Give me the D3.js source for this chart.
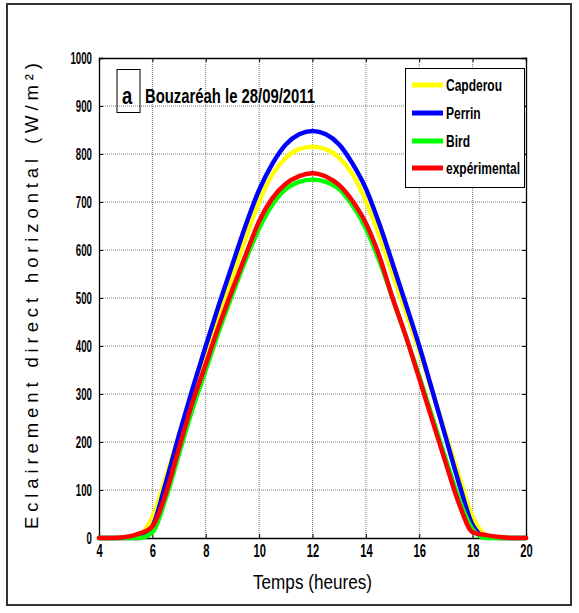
<!DOCTYPE html>
<html>
<head>
<meta charset="utf-8">
<script src="https://cdn.jsdelivr.net/npm/d3@7"></script>
<style>
  html, body { margin: 0; padding: 0; background: #fff; }
  svg { display: block; }
  text { font-family: "Liberation Sans", Arial, sans-serif; }
</style>
</head>
<body>
<svg id="chart" width="579" height="613"></svg>
<script>
// ---- data ----
const hours = [4,4.5,5,5.5,6,6.5,7,7.5,8,8.5,9,9.5,10,10.5,11,11.5,12,12.5,13,13.5,14,14.5,15,15.5,16,16.5,17,17.5,18,18.5,19,19.5,20];
const capderou = [0,0,0,5,44,125,215,303,388,470,545,625,700,758,792,810,815,810,792,758,702,630,550,470,390,302,215,127,44,6,0,0,0];
const perrin   = [0,0,0,0,24,114,215,310,400,487,570,652,725,780,820,841,848,841,820,780,728,655,572,487,400,305,208,112,27,2,0,0,0];
const bird     = [0,0,0,0,12,82,175,268,350,432,508,580,645,695,727,742,747,742,727,693,645,578,500,420,337,250,163,80,18,0,0,0,0];
const experimental = [0,0,2,9,24,92,188,282,362,443,518,590,660,708,738,754,760,753,735,702,656,588,500,420,332,243,155,70,12,6,2,0,0];
const seriesNames = ["Capderou","Perrin","Bird","expérimental"];
const seriesColors = ["#ffff00","#0000ff","#00ff00","#ff0000"];
const xTicks = [4,6,8,10,12,14,16,18,20];
const yTicks = [0,100,200,300,400,500,600,700,800,900,1000];
const titleTag = "a";
const titleText = "Bouzaréah le 28/09/2011";
const xLabel = "Temps (heures)";
const yLabel = "Eclairement direct horizontal (W/m²)";

// ---- layout ----
const svg = d3.select("#chart");
const L = 99, R = 526, T = 58, B = 538;
const x = d3.scaleLinear().domain([4,20]).range([L,R]);
const y = d3.scaleLinear().domain([0,1000]).range([B,T]);

// squeeze text horizontally to imitate a narrow face
function narrow(sel, factor) {
  sel.each(function() {
    const w = this.getComputedTextLength();
    d3.select(this).attr("textLength", w * factor).attr("lengthAdjust", "spacingAndGlyphs");
  });
}

// outer frame
svg.append("rect").attr("x",7).attr("y",4).attr("width",564).attr("height",601)
  .attr("fill","none").attr("stroke","#333").attr("stroke-width",2);

// grid
const grid = svg.append("g");
grid.selectAll(".gx").data(xTicks.slice(1,-1)).join("line")
  .attr("x1",d=>x(d)).attr("x2",d=>x(d)).attr("y1",T).attr("y2",B)
  .attr("stroke","#777").attr("stroke-width",1).attr("stroke-dasharray","1,1");
grid.selectAll(".gy").data(yTicks.slice(1,-1)).join("line")
  .attr("y1",d=>y(d)).attr("y2",d=>y(d)).attr("x1",L).attr("x2",R)
  .attr("stroke","#777").attr("stroke-width",1).attr("stroke-dasharray","1,1");

// axes (ticks inside, on all four sides)
const fmt = d3.format("d");
const axB = svg.append("g").attr("transform",`translate(0,${B})`)
  .call(d3.axisBottom(x).tickValues(xTicks).tickSize(-4).tickPadding(6).tickFormat(fmt));
const axT = svg.append("g").attr("transform",`translate(0,${T})`)
  .call(d3.axisTop(x).tickValues(xTicks).tickSize(-4).tickFormat(""));
const axL = svg.append("g").attr("transform",`translate(${L},0)`)
  .call(d3.axisLeft(y).tickValues(yTicks).tickSize(-4).tickPadding(7).tickFormat(fmt));
const axR = svg.append("g").attr("transform",`translate(${R},0)`)
  .call(d3.axisRight(y).tickValues(yTicks).tickSize(-4).tickFormat(""));
[axB,axT,axL,axR].forEach(a=>{
  a.select(".domain").attr("stroke","#000").attr("stroke-width",1.3);
  a.selectAll(".tick line").attr("stroke","#000");
});
axB.selectAll("text").attr("font-size",18).attr("font-weight","bold").attr("fill","#000")
  .attr("font-family","'Liberation Sans', Arial, sans-serif").call(narrow, 0.62);
axL.selectAll("text").attr("font-size",17).attr("font-weight","bold").attr("fill","#000")
  .attr("font-family","'Liberation Sans', Arial, sans-serif").call(narrow, 0.57);

// lines
const data = [capderou, perrin, bird, experimental];
const line = d3.line().x((d,i)=>x(hours[i])).y(d=>y(d)).curve(d3.curveMonotoneX);
svg.append("g").selectAll("path").data(data).join("path")
  .attr("d",d=>line(d)).attr("fill","none")
  .attr("stroke",(d,i)=>seriesColors[i]).attr("stroke-width",4.5)
  .attr("stroke-linejoin","round").attr("stroke-linecap","round");

// title box
svg.append("rect").attr("x",117).attr("y",69.5).attr("width",23).attr("height",43)
  .attr("fill","none").attr("stroke","#000").attr("stroke-width",1);
svg.append("text").attr("x",122).attr("y",104)
  .attr("font-size",23).attr("font-weight","bold").text(titleTag).call(narrow, 0.8);
svg.append("text").attr("x",145).attr("y",103)
  .attr("font-size",20).attr("font-weight","bold")
  .attr("textLength",170).attr("lengthAdjust","spacingAndGlyphs").text(titleText);

// legend
const lg = svg.append("g");
lg.append("rect").attr("x",405.5).attr("y",68.5).attr("width",119).attr("height",119)
  .attr("fill","#fff").attr("stroke","#000").attr("stroke-width",1);
const rowsY = [85,113,141,168];
seriesNames.forEach((n,i)=>{
  lg.append("line").attr("x1",412).attr("x2",443).attr("y1",rowsY[i]).attr("y2",rowsY[i])
    .attr("stroke",seriesColors[i]).attr("stroke-width",5);
  lg.append("text").attr("x",446).attr("y",rowsY[i]+6)
    .attr("font-size",16).attr("font-weight","bold").text(n).call(narrow, 0.75);
});

// axis labels
svg.append("text").attr("x",x(12)).attr("y",589)
  .attr("text-anchor","middle").attr("font-size",21)
  .attr("textLength",119).attr("lengthAdjust","spacingAndGlyphs").text(xLabel);
svg.append("text")
  .attr("transform","translate(38,296) rotate(-90)")
  .attr("text-anchor","middle")
  .attr("font-size",18.5).attr("textLength",466).attr("lengthAdjust","spacing").text(yLabel);
</script>
</body>
</html>
